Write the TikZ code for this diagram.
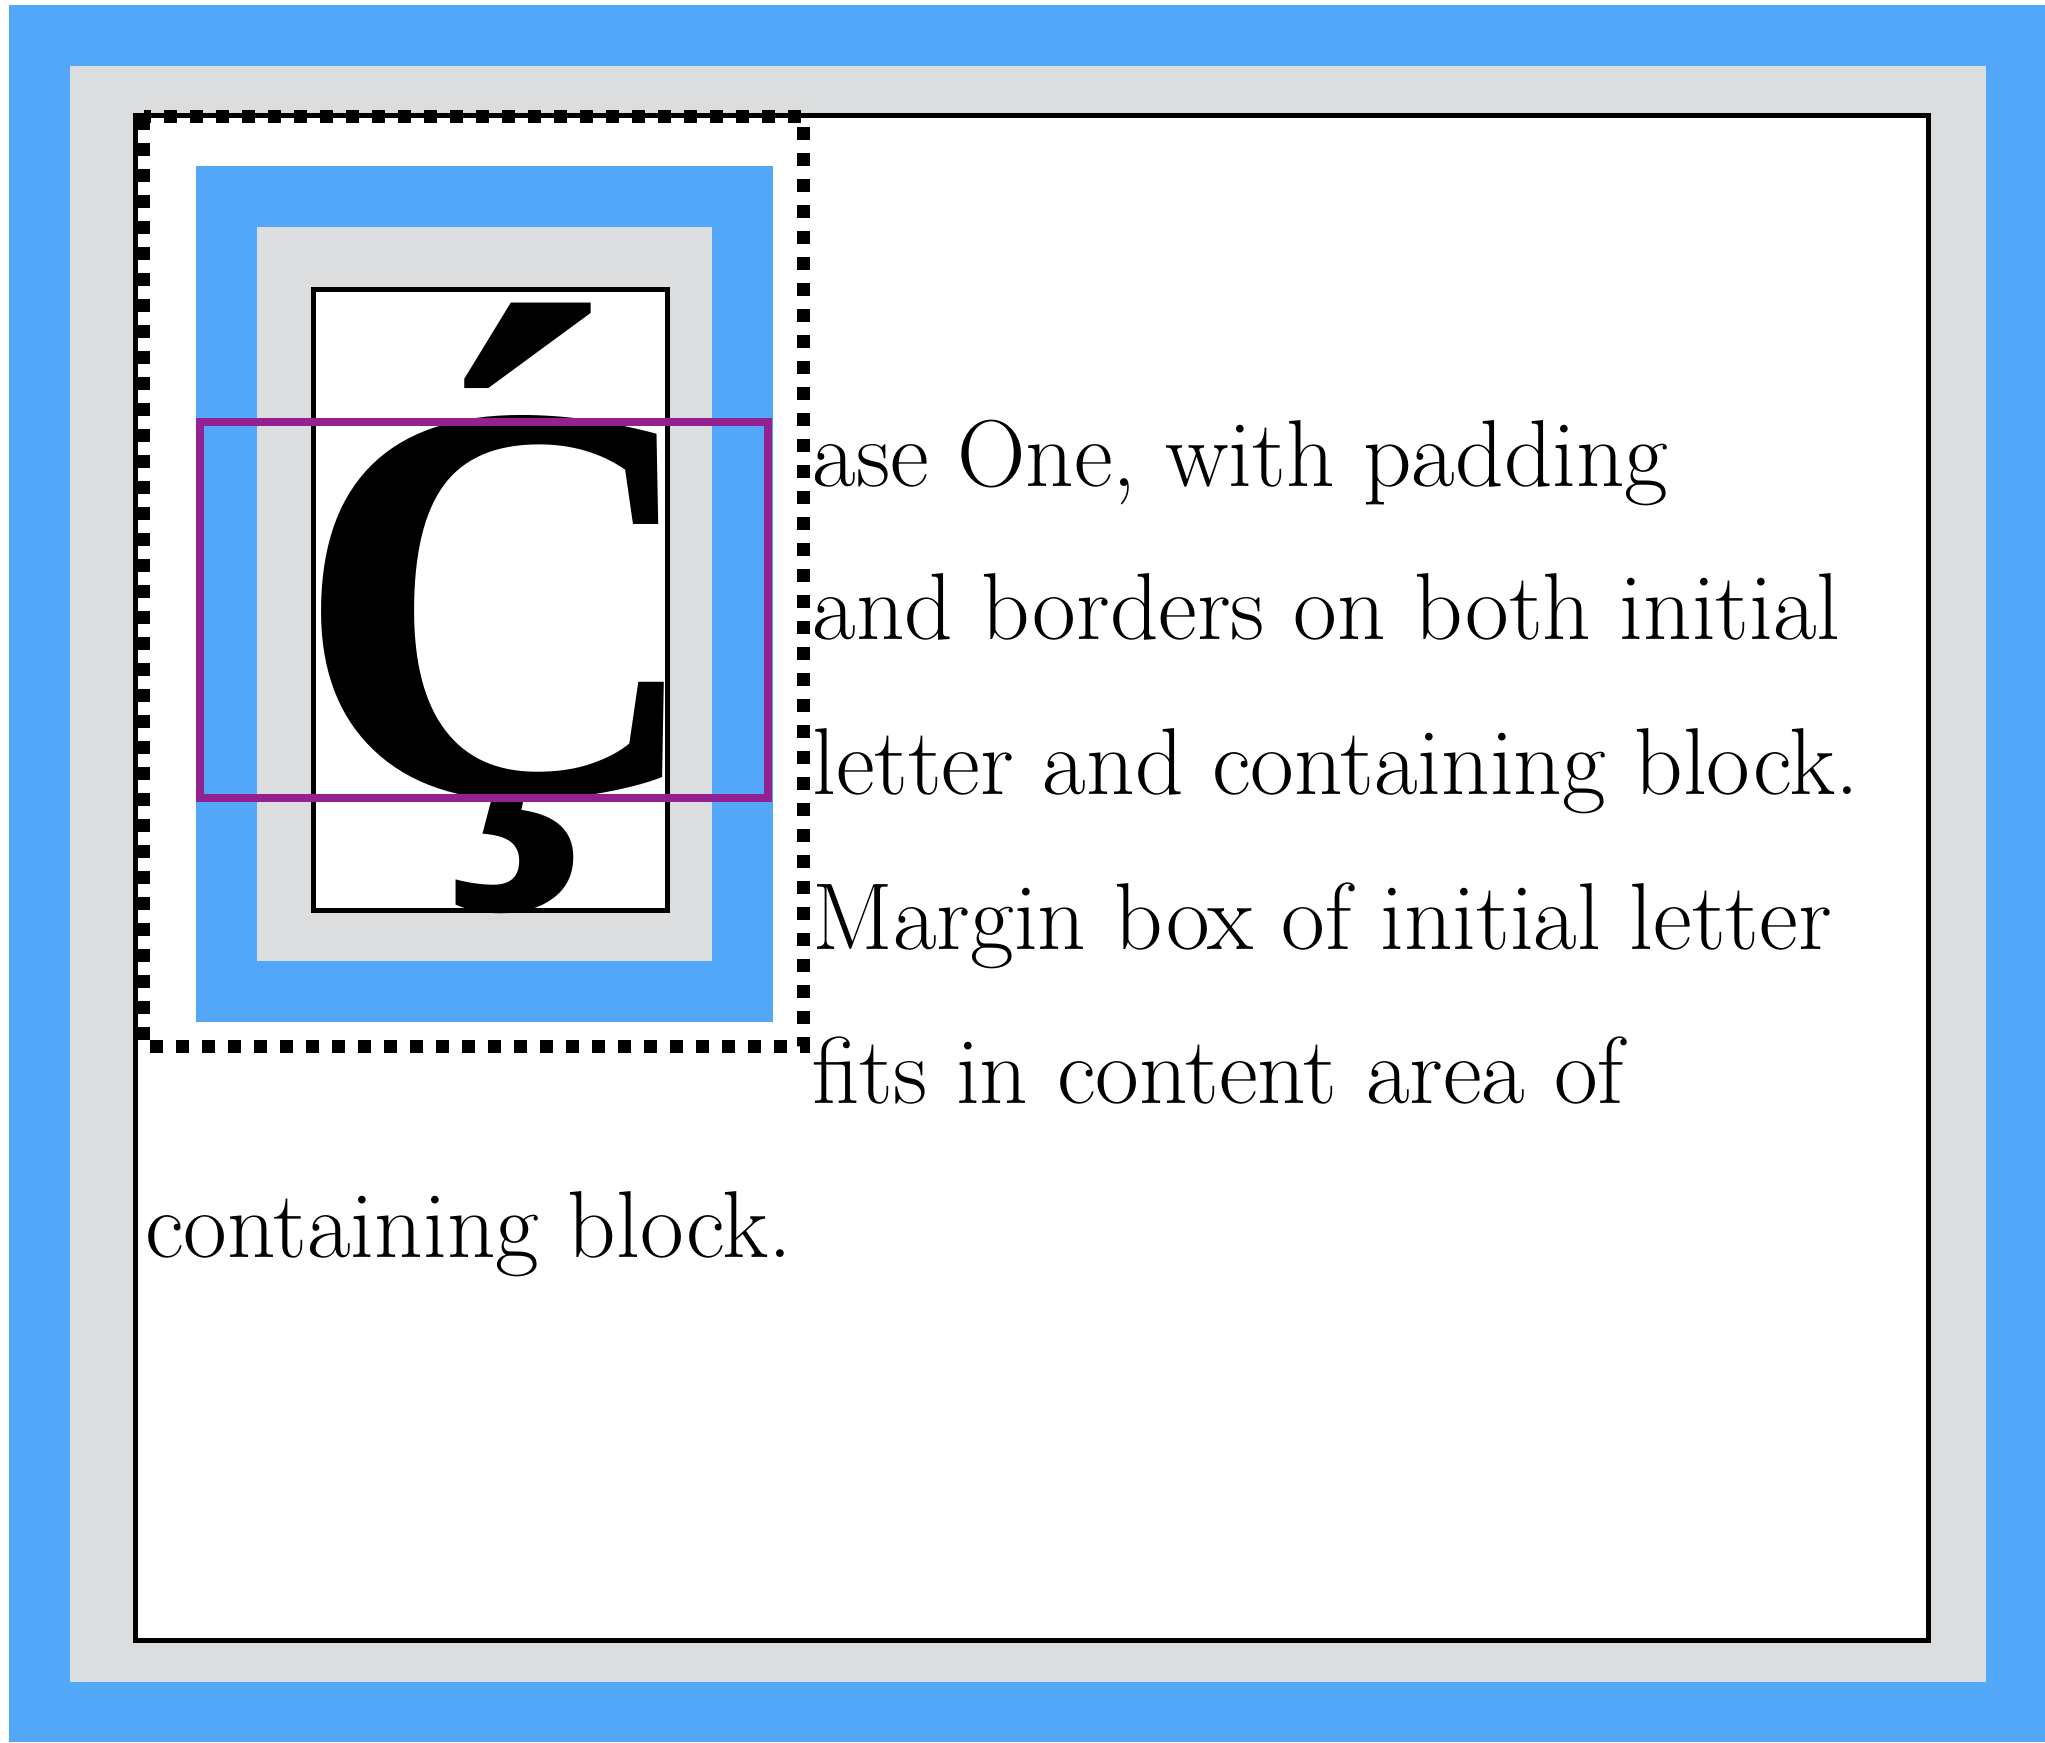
\documentclass[tikz,border=0pt]{standalone}
\usepackage{fontspec}
\newfontfamily\capfont{Liberation Serif}
\definecolor{bgblue}{RGB}{82,167,249}
\definecolor{bggray}{RGB}{220,221,223}
\definecolor{mpurple}{RGB}{147,33,145}
\tikzset{
  txt/.style={inner sep=0pt, anchor=base west, font=\fontsize{47.5}{50}\selectfont},
  solidbox/.style={draw=black, line width=2.5pt, fill=white},
  dotbox/.style={draw=black, line width=6.5pt, dash pattern=on 6.5pt off 6.5pt},
}
\begin{document}
\begin{tikzpicture}[x=0.5pt,y=-0.5pt]
\useasboundingbox (0,0) rectangle (2045,1742);
\fill[white] (0,0) rectangle (2045,1742);
\fill[bgblue] (9,5) rectangle (2045,1742);
\fill[bggray] (70,66) rectangle (1986,1682);
\draw[solidbox] (135.5,115.5) rectangle (1928.5,1640.5);
\fill[bgblue] (196,166) rectangle (773,1022);
\fill[bggray] (256.5,227) rectangle (711.5,961);
\draw[solidbox] (313,289.5) rectangle (667.5,910.5);
\node[inner sep=0pt, anchor=base west] (letter) at (293,795) {\capfont\bfseries\fontsize{287}{287}\selectfont Ḉ};
\draw[mpurple, line width=4pt] (200,421.5) rectangle (768,798);
\draw[dotbox] (143.5,116.5) rectangle (803,1046.5);
\node[txt] (l1) at (812,486) {ase One, with padding};
\node[txt] (l2) at (812,639) {and borders on both initial};
\node[txt] (l3) at (812,794) {letter and containing block.};
\node[txt] (l4) at (812,949) {Margin box of initial letter};
\node[txt] (l5) at (812,1103) {fits in content area of};
\node[txt] (l6) at (145,1257) {containing block.};
\end{tikzpicture}
\end{document}
